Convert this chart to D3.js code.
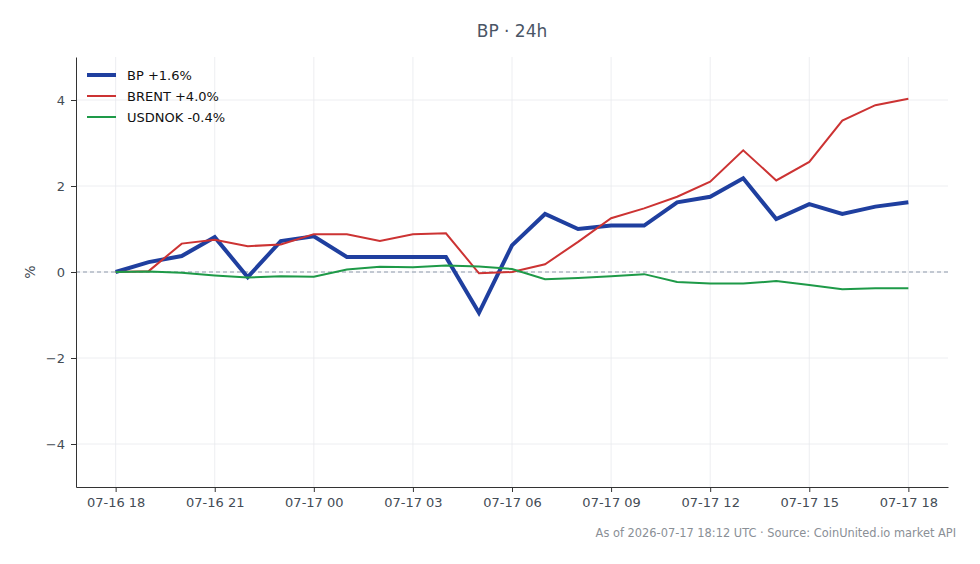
<!DOCTYPE html>
<html lang="en">
<head>
<meta charset="UTF-8">
<title>BP 24h</title>
<script src="https://d3js.org/d3.v7.min.js"></script>
<style>
* { font-family: 'DejaVu Sans', sans-serif; }
html, body { margin: 0; padding: 0; background: #fff; }
svg { display: block; }
.tick text { fill: #444c55; font-size: 13px; }
.tick line { stroke: #333; }
.domain { stroke: #333; }
</style>
</head>
<body>
<svg id="canvas"></svg>
<script>
// hourly points from 2026-07-16 18:00 UTC to 2026-07-17 18:00 UTC
let startTime = Date.UTC(2026, 6, 16, 18)
let hours = d3.range(25).map(i => new Date(startTime + i * 3600e3))

let bpValues = [0, 0.23, 0.37, 0.81, -0.12, 0.72, 0.83, 0.35, 0.35, 0.35, 0.35, -0.95, 0.62,
    1.35, 1.0, 1.08, 1.08, 1.62, 1.75, 2.18, 1.23, 1.58, 1.35, 1.52, 1.62]
let brentValues = [0, 0.02, 0.66, 0.75, 0.6, 0.64, 0.88, 0.88, 0.72, 0.88, 0.9, -0.03, 0,
    0.18, 0.7, 1.25, 1.48, 1.75, 2.1, 2.83, 2.13, 2.56, 3.52, 3.88, 4.03]
let usdnokValues = [0, 0.01, -0.02, -0.08, -0.13, -0.1, -0.11, 0.06, 0.12, 0.11, 0.15, 0.13, 0.07,
    -0.17, -0.14, -0.1, -0.05, -0.23, -0.27, -0.27, -0.21, -0.3, -0.4, -0.38, -0.38]

let seriesNames = ['BP +1.6%', 'BRENT +4.0%', 'USDNOK -0.4%']
let seriesValues = [bpValues, brentValues, usdnokValues]
let seriesColors = ['#1f3f9f', '#cc3333', '#1e9a48']
let seriesWidths = [4, 2, 2]

let yTicks = [-4, -2, 0, 2, 4]

let width = 980
let height = 564
let plotLeft = 76, plotRight = 948, plotTop = 57, plotBottom = 487

let svg = d3.select('svg').attr('width', width).attr('height', height)

let pad = 1.2 * 3600e3
let xScale = d3.scaleUtc()
    .domain([new Date(startTime - pad), new Date(startTime + 24 * 3600e3 + pad)])
    .range([plotLeft, plotRight])
let yScale = d3.scaleLinear().domain([-5, 5]).range([plotBottom, plotTop])

let xTicks = d3.range(0, 25, 3).map(i => hours[i])

// grid
let grid = svg.append('g')
grid.selectAll('.vgrid').data(xTicks).enter().append('line')
    .attr('x1', d => xScale(d)).attr('x2', d => xScale(d))
    .attr('y1', plotTop).attr('y2', plotBottom)
    .attr('stroke', '#e8eaee').attr('stroke-width', 0.8)
grid.selectAll('.hgrid').data(yTicks).enter().append('line')
    .attr('x1', plotLeft).attr('x2', plotRight)
    .attr('y1', d => yScale(d)).attr('y2', d => yScale(d))
    .attr('stroke', '#e8eaee').attr('stroke-width', 0.8)

// zero line
svg.append('line')
    .attr('x1', plotLeft).attr('x2', plotRight)
    .attr('y1', yScale(0)).attr('y2', yScale(0))
    .attr('stroke', '#8e99ab').attr('stroke-width', 1)
    .attr('stroke-dasharray', '4,3')

// lines
let line = d3.line().x((d, i) => xScale(hours[i])).y(d => yScale(d))
seriesValues.forEach((vals, k) => {
    svg.append('path')
        .datum(vals)
        .attr('d', line)
        .attr('fill', 'none')
        .attr('stroke', seriesColors[k])
        .attr('stroke-width', seriesWidths[k])
        .attr('stroke-linejoin', 'miter')
})

// axes
let xAxis = d3.axisBottom(xScale).tickValues(xTicks)
    .tickFormat(d3.utcFormat('%m-%d %H')).tickSize(5).tickPadding(6).tickSizeOuter(0)
let yAxis = d3.axisLeft(yScale).tickValues(yTicks)
    .tickFormat(d => d < 0 ? '\u2212' + Math.abs(d) : d).tickSize(5).tickPadding(6).tickSizeOuter(0)

svg.append('g').attr('transform', 'translate(0,' + plotBottom + ')').call(xAxis)
svg.append('g').attr('transform', 'translate(' + plotLeft + ',0)').call(yAxis)

// y label
svg.append('text')
    .attr('transform', 'translate(35,' + yScale(0) + ') rotate(-90)')
    .attr('text-anchor', 'middle')
    .attr('fill', '#444c55').attr('font-size', 14)
    .text('%')

// title
svg.append('text')
    .attr('x', (plotLeft + plotRight) / 2).attr('y', 37)
    .attr('text-anchor', 'middle')
    .attr('fill', '#4a5566').attr('font-size', 17)
    .text('BP \u00b7 24h')

// legend
let legend = svg.append('g').attr('transform', 'translate(87,75)')
seriesNames.forEach((name, k) => {
    let g = legend.append('g').attr('transform', 'translate(0,' + (k * 21) + ')')
    g.append('line').attr('x1', 0).attr('x2', 29).attr('y1', 0).attr('y2', 0)
        .attr('stroke', seriesColors[k]).attr('stroke-width', seriesWidths[k])
    g.append('text').attr('x', 40).attr('y', 5)
        .attr('font-size', 13).attr('fill', '#111')
        .text(name)
})

// footer
svg.append('text')
    .attr('x', 956).attr('y', 537)
    .attr('text-anchor', 'end')
    .attr('fill', '#8a8f96').attr('font-size', 11.4)
    .text('As of 2026-07-17 18:12 UTC \u00b7 Source: CoinUnited.io market API')
</script>
</body>
</html>
